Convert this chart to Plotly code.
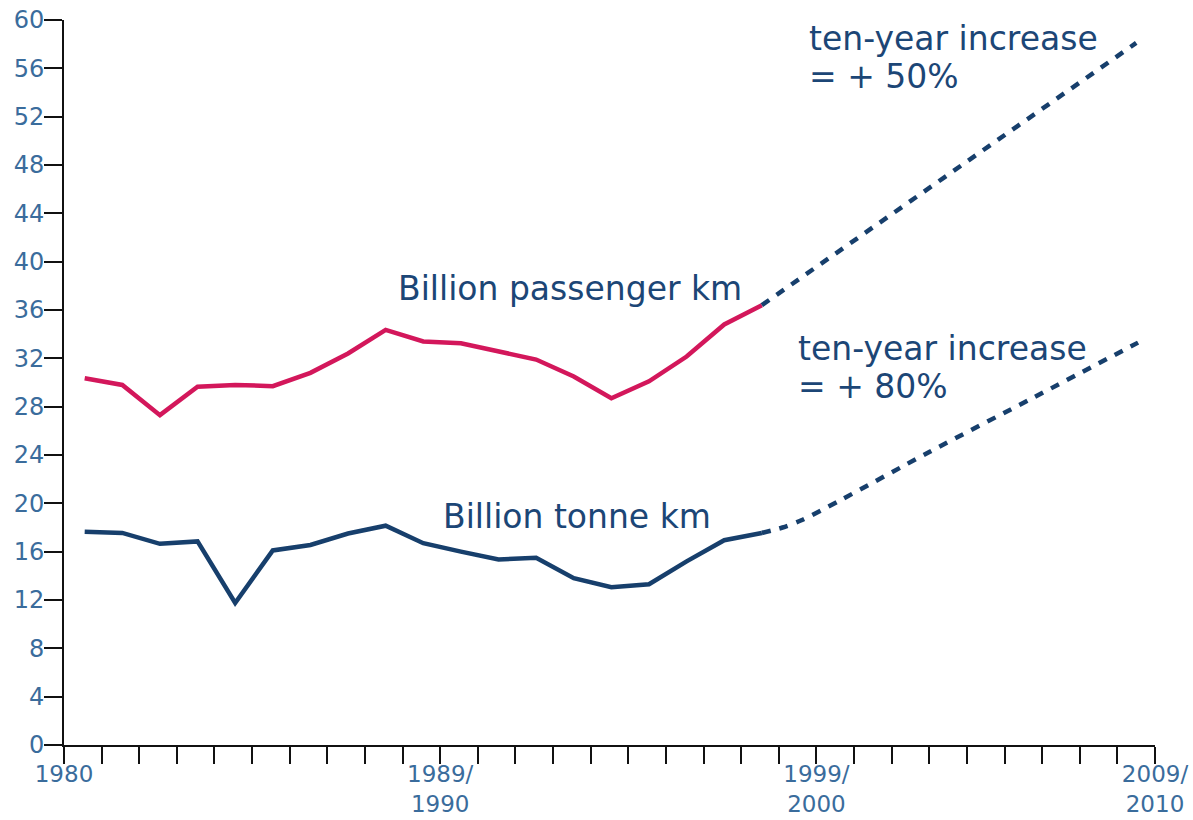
import plotly.graph_objects as go

# ---- data ----
years = list(range(1980, 1999))
passenger_km = [30.35, 29.8, 27.3, 29.65, 29.8, 29.7, 30.8, 32.4, 34.35, 33.4, 33.25,
                32.6, 31.9, 30.5, 28.7, 30.1, 32.15, 34.8, 36.4]
tonne_km = [17.65, 17.55, 16.65, 16.85, 11.75, 16.1, 16.55, 17.5, 18.15, 16.7, 16.0,
            15.35, 15.5, 13.8, 13.05, 13.3, 15.2, 16.95, 17.55]

# projections (dotted)
proj_pass_x = [18.55, 28.5]
proj_pass_y = [36.4, 58.1]
proj_tonne_x = [18.55, 19.1, 19.6, 20.6, 23.0, 25.8, 28.55]
proj_tonne_y = [17.55, 18.0, 18.6, 20.2, 24.25, 28.8, 33.3]

tick_positions = list(range(0, 30))
tick_label_map = {0: "1980", 10: "1989/<br>1990", 20: "1999/<br>2000", 29: "2009/<br>2010"}
y_ticks = list(range(0, 61, 4))

# x position of each year's point (mid-interval)
x_hist = [y - 1980 + 0.55 for y in years]

NAVY = "#173f6c"
CRIMSON = "#d3175b"
TXT = "#1c4676"
TICKTXT = "#3a6c9c"
FONT = "DejaVu Sans"

fig = go.Figure()
fig.add_trace(go.Scatter(x=x_hist, y=passenger_km, mode="lines",
                         line=dict(color=CRIMSON, width=4.5), hoverinfo="skip"))
fig.add_trace(go.Scatter(x=x_hist, y=tonne_km, mode="lines",
                         line=dict(color=NAVY, width=4.5), hoverinfo="skip"))
fig.add_trace(go.Scatter(x=proj_pass_x, y=proj_pass_y, mode="lines",
                         line=dict(color=NAVY, width=4.5, dash="9px,9px"), hoverinfo="skip"))
fig.add_trace(go.Scatter(x=proj_tonne_x, y=proj_tonne_y, mode="lines",
                         line=dict(color=NAVY, width=4.5, dash="9px,9px", shape="spline",
                                   smoothing=0.8),
                         hoverinfo="skip"))

big = dict(family=FONT, size=33, color=TXT)
annots = [
    dict(x=13.45, y=37.8, text="Billion passenger km", xanchor="center", yanchor="middle"),
    dict(x=13.64, y=18.95, text="Billion tonne km", xanchor="center", yanchor="middle"),
    dict(x=19.75, y=58.5, text="ten-year increase", xanchor="left", yanchor="middle"),
    dict(x=19.75, y=55.35, text="= + 50%", xanchor="left", yanchor="middle"),
    dict(x=19.45, y=32.85, text="ten-year increase", xanchor="left", yanchor="middle"),
    dict(x=19.45, y=29.7, text="= + 80%", xanchor="left", yanchor="middle"),
]
for a in annots:
    fig.add_annotation(**a, xref="x", yref="y", showarrow=False, font=big)

fig.update_layout(
    width=1193, height=820, autosize=False,
    margin=dict(l=64, r=38, t=20, b=75),
    paper_bgcolor="white", plot_bgcolor="white",
    showlegend=False,
    font=dict(family=FONT, color=TICKTXT, size=23),
)
fig.update_xaxes(
    range=[0, 29], tickmode="array", tickvals=tick_positions,
    ticktext=[tick_label_map.get(t, "") for t in tick_positions],
    ticks="outside", ticklen=17, tickwidth=2, tickcolor="#111",
    showline=True, linecolor="#111", linewidth=2,
    showgrid=False, zeroline=False, automargin=False,
    ticklabelstandoff=-10,
    tickfont=dict(family=FONT, size=23, color=TICKTXT),
)
fig.update_yaxes(
    range=[0, 60], tickmode="array", tickvals=y_ticks,
    ticks="outside", ticklen=18, tickwidth=2, tickcolor="#111",
    showline=True, linecolor="#111", linewidth=2,
    showgrid=False, zeroline=False, automargin=False,
    ticklabelstandoff=-5,
    tickfont=dict(family=FONT, size=24, color=TICKTXT),
)

fig.write_html("out.html", post_script="document.body.style.margin='0';",
               config={"displayModeBar": False})
